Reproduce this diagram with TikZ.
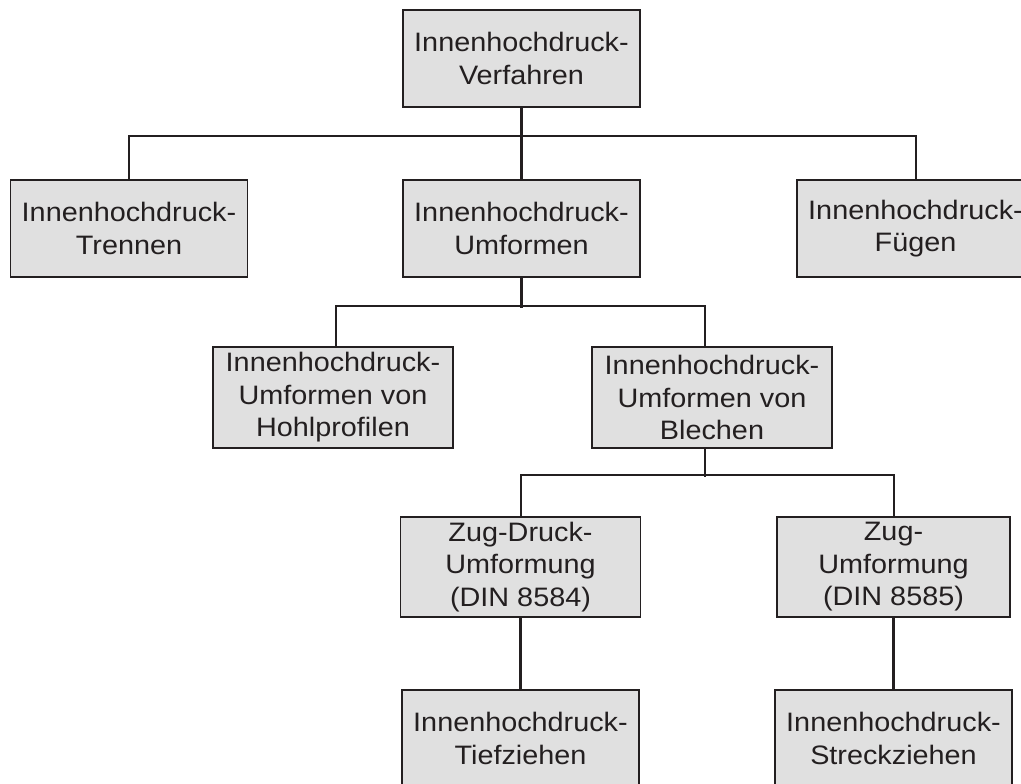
\documentclass[tikz,border=0pt]{standalone}
\usepackage{fontspec}
\setmainfont{Liberation Sans}[FakeStretch=1.08]
\definecolor{boxgray}{HTML}{E0E0E0}
\definecolor{inkdark}{HTML}{231F20}

\begin{document}
\begin{tikzpicture}[x=0.75pt,y=-0.75pt]
  \tikzstyle{proc}=[rectangle,draw=inkdark,fill=boxgray,line width=1.1pt,text=inkdark,
    align=center,inner sep=0pt,minimum width=177.75pt,minimum height=72.75pt,
    font=\fontsize{20}{24.4}\selectfont]
  \tikzstyle{thinline}=[draw=inkdark,line width=1.5pt]
  \tikzstyle{thickline}=[draw=inkdark,line width=2.4pt]
  \useasboundingbox (0,0) rectangle (1021,783);

  % first level
  \draw (521.5,58.5) node[proc] (root){Innenhochdruck-\\Verfahren};

  \draw (129,228.5) node[proc] (trennen){Innenhochdruck-\\Trennen};
  \draw (521.5,228.5) node[proc] (umformen){Innenhochdruck-\\Umformen};
  \draw (915.5,228.5) node[proc] (fuegen){Innenhochdruck-\\Fügen};

  % second level
  \draw (333,397.5) node[proc,minimum width=180pt,minimum height=75.75pt] (hohl){Innenhochdruck-\\Umformen von\\Hohlprofilen};
  \draw (712,397.5) node[proc,minimum width=180pt,minimum height=75.75pt] (blech){Innenhochdruck-\\Umformen von\\Blechen};

  % third level
  \draw (520.5,567) node[proc,minimum width=180pt,minimum height=75pt] (zugdruck){Zug-Druck-\\Umformung\\(DIN 8584)};
  \draw (893.5,567) node[proc,minimum width=174.75pt,minimum height=75pt] (zug){Zug-\\Umformung\\(DIN 8585)};

  \draw (520.5,738.5) node[proc] (tief){Innenhochdruck-\\Tiefziehen};
  \draw (893.5,738.5) node[proc] (streck){Innenhochdruck-\\Streckziehen};

  \draw[thickline] (root) -- (umformen);
  \draw[thinline] (trennen.north) -- ++(0,-43) -| (fuegen.north);
  \draw[thickline] (umformen.south) -- ++(0,30);
  \draw[thinline] ([xshift=2.25pt]hohl.north) -- ++(0,-40) -| ([xshift=-5.25pt]blech.north);
  \draw[thinline] ([xshift=-5.25pt]blech.south) -- ++(0,28);
  \draw[thinline] (zugdruck.north) -- ++(0,-41) -| (zug.north);
  \draw[thickline] (zugdruck) -- (tief);
  \draw[thickline] (zug) -- (streck);
\end{tikzpicture}
\end{document}
